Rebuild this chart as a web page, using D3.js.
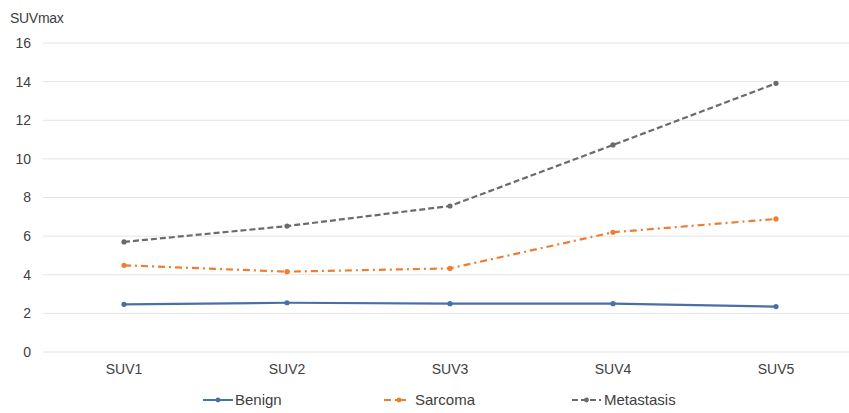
<!DOCTYPE html>
<html><head><meta charset="utf-8">
<script src="https://cdn.jsdelivr.net/npm/d3@7"></script>
<style>body{margin:0;background:#fff}svg{display:block;font-family:"Liberation Sans",Arial,sans-serif}</style>
</head><body><svg id="c" width="849" height="413"></svg>
<script>
const categories = ["SUV1","SUV2","SUV3","SUV4","SUV5"];
const benign = [2.47, 2.55, 2.5, 2.5, 2.35];
const sarcoma = [4.49, 4.16, 4.33, 6.2, 6.89];
const metastasis = [5.7, 6.52, 7.56, 10.72, 13.91];
const yTicks = [0,2,4,6,8,10,12,14,16];
const seriesNames = ["Benign","Sarcoma","Metastasis"];

const FONT = "Liberation Sans, Arial, sans-serif";
const TXT = "#404040";
const svg = d3.select("#c");
const x = d3.scaleBand().domain(categories).range([42.5, 857.5]);
const y = d3.scaleLinear().domain([0,16]).range([352, 43]);

// grid
svg.append("g").selectAll("line").data(yTicks).join("line")
  .attr("x1", 43).attr("x2", 849)
  .attr("y1", d=>y(d)).attr("y2", d=>y(d))
  .attr("stroke", "#e4e4e4").attr("stroke-width", 1);

// y axis
const ya = svg.append("g").attr("transform","translate(31,0)")
  .call(d3.axisLeft(y).tickValues(yTicks).tickSize(0).tickPadding(0));
ya.select(".domain").remove();
ya.selectAll("text").attr("font-size",14).attr("fill",TXT).attr("font-family",FONT);

// x axis
const xa = svg.append("g").attr("transform","translate(0,352)")
  .call(d3.axisBottom(x).tickSize(0).tickPadding(12));
xa.select(".domain").remove();
xa.selectAll("text").attr("font-size",14).attr("fill",TXT).attr("font-family",FONT);

svg.append("text").attr("x",10).attr("y",23).text("SUVmax")
  .attr("font-size",14).attr("fill",TXT).attr("letter-spacing","-0.3");

const series = [
  {name: seriesNames[0], values: benign, color: "#4a6fa8", dash: null},
  {name: seriesNames[1], values: sarcoma, color: "#ed7d31", dash: "7,4,2,4"},
  {name: seriesNames[2], values: metastasis, color: "#6b6b6b", dash: "6,3"}
];
const cx = c => x(c) + x.bandwidth()/2;
const line = d3.line().x((d,i)=>cx(categories[i])).y(d=>y(d));

series.forEach(s => {
  svg.append("path").datum(s.values).attr("d", line)
    .attr("fill","none").attr("stroke", s.color).attr("stroke-width", 2.2)
    .attr("stroke-dasharray", s.dash);
  svg.append("g").selectAll("circle").data(s.values).join("circle")
    .attr("cx",(d,i)=>cx(categories[i])).attr("cy", d=>y(d)).attr("r",2.6)
    .attr("fill", s.color);
});

// legend
const legendPos = [{lx:203, len:30, tx:235}, {lx:384, len:22, tx:415}, {lx:572, len:29, tx:604}];
series.forEach((s,i) => {
  const g = svg.append("g");
  const p = legendPos[i];
  g.append("line").attr("x1",p.lx).attr("x2",p.lx+p.len).attr("y1",400).attr("y2",400)
    .attr("stroke",s.color).attr("stroke-width",2).attr("stroke-dasharray", s.dash);
  g.append("circle").attr("cx",p.lx+p.len/2 + (i===1?4:0)).attr("cy",400).attr("r",2.4).attr("fill",s.color);
  g.append("text").attr("x",p.tx).attr("y",405).text(s.name)
    .attr("font-size",15).attr("fill",TXT);
});
</script></body></html>
